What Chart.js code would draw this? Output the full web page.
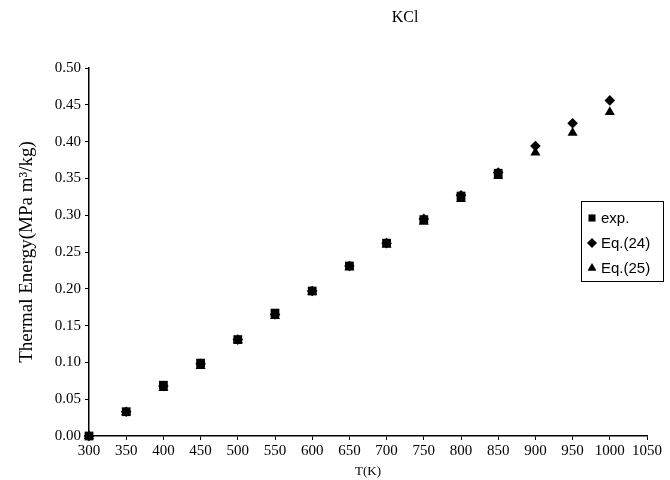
<!DOCTYPE html>
<html>
<head>
<meta charset="utf-8">
<script src="https://cdn.jsdelivr.net/npm/chart.js@4"></script>
<style>
  html, body { margin: 0; padding: 0; background: #fff; }
  #wrap { width: 670px; height: 480px; }
</style>
</head>
<body>
<div id="wrap"><canvas id="kclChart" width="670" height="480"></canvas></div>
<script>
const temps = [300, 350, 400, 450, 500, 550, 600, 650, 700, 750, 800, 850, 900, 950, 1000];
const expVals = [0.000, 0.033, 0.069, 0.099, 0.131, 0.167, 0.197, 0.231, 0.262, 0.294, 0.326, 0.357];
const eq24Vals = [0.000, 0.033, 0.068, 0.098, 0.131, 0.165, 0.197, 0.231, 0.262, 0.295, 0.327, 0.358, 0.394, 0.425, 0.456];
const eq25Vals = [0.000, 0.032, 0.065, 0.095, 0.130, 0.163, 0.196, 0.229, 0.260, 0.291, 0.322, 0.353, 0.385, 0.412, 0.440];
const seriesNames = ["exp.", "Eq.(24)", "Eq.(25)"];
const chartTitle = "KCl";
const xTitle = "T(K)";
const yTitle = "Thermal Energy(MPa m\u00B3/kg)";

const serif = "'Liberation Serif', 'Times New Roman', serif";
const sans = "'Liberation Sans', Arial, sans-serif";

function toPoints(vals) {
    return vals.map(function (v, i) { return { x: temps[i], y: v }; });
}

// titel boven de plot, iets rechts van het midden
const titlePlugin = {
    id: "kclTitle",
    afterDraw: function (chart) {
        const ctx = chart.ctx;
        ctx.save();
        ctx.fillStyle = "#000";
        ctx.font = "16px " + serif;
        ctx.textAlign = "center";
        ctx.textBaseline = "middle";
        ctx.fillText(chartTitle, 405, 18);
        ctx.restore();
    }
};

// legenda in een kader rechts in de grafiek
const boxLegend = {
    id: "boxLegend",
    afterDraw: function (chart) {
        const ctx = chart.ctx;
        const x = 581, y = 201, w = 82, h = 80;
        ctx.save();
        ctx.fillStyle = "#fff";
        ctx.fillRect(x, y, w, h);
        ctx.strokeStyle = "#000";
        ctx.lineWidth = 1;
        ctx.strokeRect(x + 0.5, y + 0.5, w, h);
        ctx.font = "15px " + sans;
        ctx.textBaseline = "middle";
        chart.data.datasets.forEach(function (ds, i) {
            const cy = y + 17 + i * 25;
            Chart.helpers.drawPoint(ctx, {
                pointStyle: ds.pointStyle,
                radius: i === 0 ? 5 : 4.8,
                borderWidth: 0
            }, x + 11, cy);
            ctx.fillStyle = "#000";
            ctx.fill();
            ctx.fillText(ds.label, x + 20, cy + 1);
        });
        ctx.restore();
    }
};

new Chart(document.getElementById("kclChart").getContext("2d"), {
    type: "scatter",
    data: {
        datasets: [{
            label: seriesNames[0],
            data: toPoints(expVals),
            pointStyle: "rect",
            pointRadius: 6.2,
            backgroundColor: "#000",
            borderColor: "#000",
            borderWidth: 0,
            clip: false
        }, {
            label: seriesNames[1],
            data: toPoints(eq24Vals),
            pointStyle: "rectRot",
            pointRadius: 5.3,
            backgroundColor: "#000",
            borderColor: "#000",
            borderWidth: 0,
            clip: false
        }, {
            label: seriesNames[2],
            data: toPoints(eq25Vals),
            pointStyle: "triangle",
            pointRadius: 5.8,
            backgroundColor: "#000",
            borderColor: "#000",
            borderWidth: 0,
            clip: false
        }]
    },
    options: {
        responsive: false,
        animation: false,
        layout: { padding: { top: 68, right: 23, bottom: 0, left: 0 } },
        plugins: {
            legend: { display: false },
            tooltip: { enabled: false }
        },
        scales: {
            x: {
                type: "linear",
                min: 300,
                max: 1050,
                afterFit: function (scale) { scale.height = 44; },
                ticks: {
                    stepSize: 50,
                    color: "#000",
                    font: { family: serif, size: 15 },
                    maxRotation: 0,
                    padding: 2,
                    callback: function (v) { return String(v); }
                },
                grid: { drawOnChartArea: false, drawTicks: true, tickLength: 4, color: "#000" },
                border: { color: "#000", width: 1.5 },
                title: {
                    display: true,
                    text: xTitle,
                    color: "#000",
                    font: { family: serif, size: 13 },
                    padding: { top: 0, bottom: 1 }
                }
            },
            y: {
                min: 0,
                max: 0.5,
                afterFit: function (scale) { scale.width = 89; },
                ticks: {
                    stepSize: 0.05,
                    color: "#000",
                    font: { family: serif, size: 15 },
                    padding: 4,
                    callback: function (v) { return v.toFixed(2); }
                },
                grid: { drawOnChartArea: false, drawTicks: true, tickLength: 4, color: "#000" },
                border: { color: "#000", width: 1.5 },
                title: {
                    display: true,
                    text: yTitle,
                    color: "#000",
                    font: { family: serif, size: 19 },
                    padding: { top: 16, bottom: 0 }
                }
            }
        }
    },
    plugins: [titlePlugin, boxLegend]
});
</script>
</body>
</html>
